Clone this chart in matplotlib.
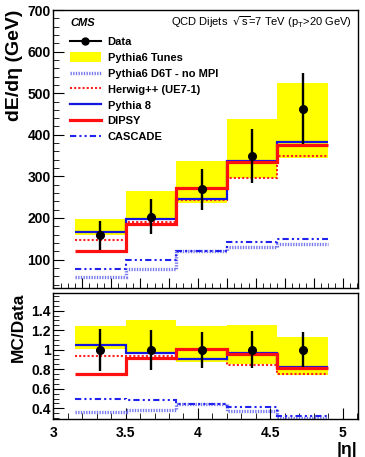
import numpy as np
import matplotlib
matplotlib.use("Agg")
import matplotlib.pyplot as plt
from matplotlib.ticker import MultipleLocator
from matplotlib.lines import Line2D
from matplotlib.patches import Patch

plt.rcParams['font.family'] = ['Liberation Sans', 'DejaVu Sans']

# ---- data ----
edges = [3.15, 3.5, 3.85, 4.2, 4.55, 4.9]
eta_centers = [3.325, 3.675, 4.025, 4.375, 4.725]
data = [159, 203, 270, 348, 463]
data_err_up = [34, 42, 48, 65, 86]
data_err_dn = [35, 42, 51, 65, 84]
tunes_hi = [198, 265, 336, 437, 525]
tunes_lo = [160, 196, 237, 296, 345]
d6t_nompi = [58, 78, 120, 130, 138]
herwig = [148, 190, 244, 295, 350]
pythia8 = [167, 197, 245, 336, 383]
dipsy = [120, 185, 273, 334, 375]
cascade = [78, 98, 121, 143, 150]

d = np.array(data, float)

W, H = 365, 457
fig = plt.figure(figsize=(W / 100, H / 100), dpi=100)
L, R = 53.3, 357.7
ax1 = fig.add_axes([L / W, 1 - 288.3 / H, (R - L) / W, (288.3 - 10) / H])
ax2 = fig.add_axes([L / W, 1 - 419.3 / H, (R - L) / W, (419.3 - 292.7) / H])

def draw(ax, scale):
    s = np.asarray(scale, float)
    ax.stairs(np.array(tunes_hi) / s, edges, baseline=np.array(tunes_lo) / s,
              fill=True, color='#ffff00', lw=0, zorder=1)
    ax.stairs(np.array(d6t_nompi) / s, edges, color='#7777ee', lw=2.4,
              linestyle=(0, (0.4, 0.4)), baseline=None, zorder=2)
    ax.stairs(np.array(cascade) / s, edges, color='#2222ee', lw=1.5,
              linestyle=(0, (3, 1.5, 1, 1.5, 1, 1.5)), baseline=None, zorder=3)
    ax.stairs(np.array(herwig) / s, edges, color='#ff2020', lw=1.5,
              linestyle=(0, (1, 1)), baseline=None, zorder=4)
    ax.stairs(np.array(pythia8) / s, edges, color='#1515e0', lw=1.6,
              baseline=None, zorder=5)
    ax.stairs(np.array(dipsy) / s, edges, color='#ff1010', lw=2.3,
              baseline=None, zorder=6)
    ax.errorbar(eta_centers, d / s,
                yerr=[np.array(data_err_dn) / s, np.array(data_err_up) / s],
                fmt='o', color='black', ms=5.5, elinewidth=1.7, capsize=0, zorder=10)

draw(ax1, np.ones(5))
draw(ax2, d)

for ax in (ax1, ax2):
    ax.set_xlim(3.0, 5.105)
    ax.tick_params(direction='in', top=False, right=False, which='both')
    for sp in ax.spines.values():
        sp.set_linewidth(1.0)

ax1.set_ylim(31, 700)
ax1.yaxis.set_major_locator(MultipleLocator(100))
ax1.yaxis.set_minor_locator(MultipleLocator(20))
ax1.xaxis.set_major_locator(MultipleLocator(0.2))
ax1.xaxis.set_minor_locator(MultipleLocator(0.05))
ax1.tick_params(axis='x', labelbottom=False, which='major', length=7)
ax1.tick_params(axis='x', which='minor', length=3.5)
ax1.tick_params(axis='y', which='major', length=8, labelsize=10, pad=2)
ax1.tick_params(axis='y', which='minor', length=4)
for lab in ax1.get_yticklabels():
    lab.set_fontweight('bold')
ax1.set_ylabel('dE/dη (GeV)', fontsize=14, fontweight='bold', loc='top', labelpad=3)

ax2.set_ylim(0.287, 1.584)
ax2.yaxis.set_major_locator(MultipleLocator(0.2))
ax2.yaxis.set_minor_locator(MultipleLocator(0.05))
ax2.xaxis.set_major_locator(MultipleLocator(0.5))
ax2.xaxis.set_minor_locator(MultipleLocator(0.1))
ax2.set_yticks([0.4, 0.6, 0.8, 1.0, 1.2, 1.4])
ax2.set_yticklabels(['0.4', '0.6', '0.8', '1', '1.2', '1.4'])
ax2.set_xticks([3, 3.5, 4, 4.5, 5])
ax2.set_xticklabels(['3', '3.5', '4', '4.5', '5'])
ax2.tick_params(axis='both', which='major', length=8, labelsize=10, pad=2)
ax2.tick_params(axis='x', which='major', pad=5)
ax2.tick_params(axis='both', which='minor', length=4)
for lab in ax2.get_yticklabels() + ax2.get_xticklabels():
    lab.set_fontweight('bold')
ax2.set_ylabel('MC/Data', fontsize=12.5, fontweight='bold', loc='top', labelpad=4)
ax2.set_xlabel('|η|', fontsize=12.5, fontweight='bold', loc='right', labelpad=1)

# texts
ax1.text(0.055, 0.955, 'CMS', transform=ax1.transAxes, fontsize=8,
         fontweight='bold', style='italic', va='center', ha='left')
ax1.text(0.98, 0.955, r'QCD Dijets  $\sqrt{\mathregular{s}}$=7 TeV (p$_\mathregular{T}$>20 GeV)',
         transform=ax1.transAxes, fontsize=8, va='center', ha='right')

handles = [
    Line2D([], [], color='black', marker='o', ms=5, lw=1.5),
    Patch(facecolor='#ffff00', edgecolor='none'),
    Line2D([], [], color='#7777ee', lw=2.4, linestyle=(0, (0.4, 0.4))),
    Line2D([], [], color='#ff2020', lw=1.5, linestyle=(0, (1, 1))),
    Line2D([], [], color='#1515e0', lw=1.6),
    Line2D([], [], color='#ff1010', lw=2.3),
    Line2D([], [], color='#2222ee', lw=1.5, linestyle=(0, (3, 1.5, 1, 1.5, 1, 1.5))),
]
labels = ['Data', 'Pythia6 Tunes', 'Pythia6 D6T - no MPI', 'Herwig++ (UE7-1)',
          'Pythia 8', 'DIPSY', 'CASCADE']
leg = ax1.legend(handles, labels, loc='upper left', bbox_to_anchor=(0.04, 0.92),
                 frameon=False, fontsize=8, handlelength=2.8, handleheight=1.0,
                 labelspacing=0.45, handletextpad=0.6, borderaxespad=0)
for t in leg.get_texts():
    t.set_fontweight('bold')

fig.savefig('out.png', dpi=100)
